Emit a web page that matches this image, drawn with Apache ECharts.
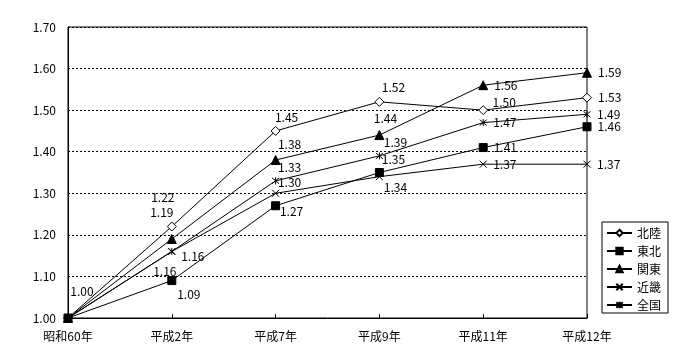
<!DOCTYPE html>
<html><head><meta charset="utf-8">
<script src="https://cdn.jsdelivr.net/npm/echarts@6/dist/echarts.min.js"></script>
<style>html,body{margin:0;padding:0;background:#fff}#c{width:700px;height:360px}</style>
</head><body><div id="c"></div>
<script>
const categories = ['昭和60年','平成2年','平成7年','平成9年','平成11年','平成12年'];
const seriesNames = ['北陸','東北','関東','近畿','全国'];
const hokuriku = [1.00,1.22,1.45,1.52,1.50,1.53];
const tohoku   = [1.00,1.09,1.27,1.35,1.41,1.46];
const kanto    = [1.00,1.19,1.38,1.44,1.56,1.59];
const kinki    = [1.00,1.16,1.30,1.34,1.37,1.37];
const zenkoku  = [1.00,1.16,1.33,1.39,1.47,1.49];
const yTicks = [1.0,1.1,1.2,1.3,1.4,1.5,1.6,1.7];

// label placement styles: [position, dx, dy] or null (hidden)
const labelStyles = [
  [['inside',14,-27],['inside',-9,-29],['inside',11,-13],['inside',14,-14],['inside',21,-8],['right',0,0]],
  [null,['inside',17,14],['inside',16,6],['inside',14,-13],['right',0,0],['right',0,0]],
  [null,['inside',-10,-27],['inside',14,-16],['inside',6,-17],['right',0,0],['right',0,0]],
  [null,['inside',-7,20],['inside',14,-11],['inside',16,11],['right',0,0],['right',0,0]],
  [null,['inside',21,5],['inside',14,-13],['inside',16,-13],['right',0,0],['right',0,0]]
];
const allValues = [hokuriku,tohoku,kanto,kinki,zenkoku];
const FONT = '"Noto Sans CJK JP", "Noto Sans", sans-serif';
const symbols = [
  {symbol:'diamond', size:9, fill:'#fff'},
  {symbol:'rect', size:8, fill:'#000'},
  {symbol:'triangle', size:9, fill:'#000'},
  {symbol:'path://M0,0L10,10M10,0L0,10', size:7, fill:'#000'},
  {symbol:'path://M0,0L10,10M10,0L0,10M5,-1L5,11', size:7, fill:'#000'}
];

const series = seriesNames.map((name,i)=>({
  name, type:'line',
  symbol: symbols[i].symbol, symbolSize: symbols[i].size,
  showAllSymbol:true,
  lineStyle:{color:'#000', width:1},
  itemStyle:{color:symbols[i].fill, borderColor:'#000', borderWidth:1},
  emphasis:{disabled:true},
  z: 2 + i,
  data: allValues[i].map((v,j)=>{
    const s = labelStyles[i][j];
    return {
      value: v,
      label: s ? {show:true, position:s[0], offset:[s[1],s[2]], distance:6,
        formatter: p=>p.value.toFixed(2), color:'#000', fontFamily:FONT, fontSize:12} : {show:false}
    };
  })
}));

const chart = echarts.init(document.getElementById('c'));
chart.setOption({
  animation:false,
  backgroundColor:'#fff',
  grid:{left:68,right:113,top:27,bottom:42,show:true,borderColor:'#000',borderWidth:1,backgroundColor:'transparent'},
  legend:{
    orient:'vertical', left:602, top:222,
    padding:[5,7,2,4], itemGap:6, itemWidth:25, itemHeight:8,
    borderColor:'#000', borderWidth:1,
    textStyle:{color:'#000', fontFamily:FONT, fontSize:12, lineHeight:12},
    data: seriesNames
  },
  xAxis:{
    type:'category', data:categories, boundaryGap:false,
    axisLine:{lineStyle:{color:'#000',width:1}},
    axisTick:{show:true, inside:true, length:4, alignWithLabel:true, lineStyle:{color:'#000'}},
    axisLabel:{color:'#000', fontFamily:FONT, fontSize:12, margin:12, interval:0},
    splitLine:{show:false}
  },
  yAxis:{
    type:'value', min:yTicks[0], max:yTicks[yTicks.length-1], interval:0.1,
    axisLine:{show:true, lineStyle:{color:'#000',width:1}},
    axisTick:{show:false},
    axisLabel:{color:'#000', fontFamily:FONT, fontSize:12, margin:12, formatter:v=>v.toFixed(2)},
    splitLine:{show:true, lineStyle:{color:'#000', type:[2,2], width:1}}
  },
  series
});
</script>
</body></html>
